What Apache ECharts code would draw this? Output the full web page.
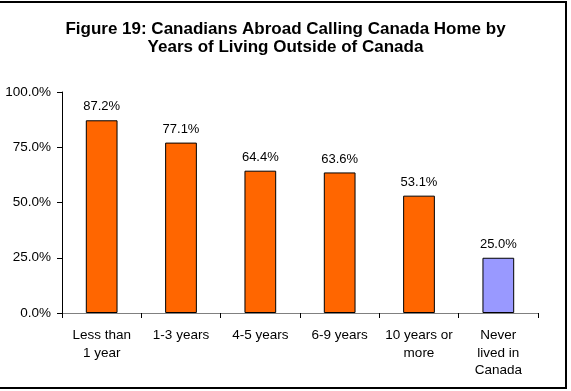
<!DOCTYPE html>
<html>
<head>
<meta charset="utf-8">
<script src="https://cdn.jsdelivr.net/npm/echarts@6/dist/echarts.min.js"></script>
<style>
  html, body { margin: 0; padding: 0; background: #fff; }
  #chart { width: 571px; height: 391px; }
</style>
</head>
<body>
<div id="chart"></div>
<script>
// Share of respondents calling Canada home, by time spent living abroad
const categories = ['Less than\n1 year', '1-3 years', '4-5 years', '6-9 years', '10 years or\nmore', 'Never\nlived in\nCanada'];
const values = [87.2, 77.1, 64.4, 63.6, 53.1, 25.0];
const barColors = ['#FF6600', '#FF6600', '#FF6600', '#FF6600', '#FF6600', '#9999FF'];
const yTicks = [0, 25, 50, 75, 100];

const FONT = 'Liberation Sans, Arial, sans-serif';
const chart = echarts.init(document.getElementById('chart'));

chart.setOption({
  animation: false,
  backgroundColor: '#ffffff',
  textStyle: { fontFamily: FONT },
  title: {
    text: 'Figure 19: Canadians Abroad Calling Canada Home by\nYears of Living Outside of Canada',
    left: 'center',
    top: 15,
    textStyle: {
      fontFamily: FONT,
      fontSize: 17,
      fontWeight: 'bold',
      color: '#000',
      lineHeight: 18.5
    }
  },
  graphic: [{
    type: 'rect',
    shape: { x: -10, y: 2, width: 576, height: 386 },
    style: { fill: 'none', stroke: '#000', lineWidth: 2 },
    silent: true,
    z: 100
  }],
  grid: { left: 62, right: 33, top: 92, bottom: 78 },
  xAxis: {
    type: 'category',
    data: categories,
    boundaryGap: true,
    axisLine: { lineStyle: { color: '#808080', width: 1 } },
    axisTick: { show: true, length: 5, inside: false, lineStyle: { color: '#000' } },
    axisLabel: {
      interval: 0,
      margin: 14,
      fontSize: 13.5,
      lineHeight: 17.5,
      color: '#000',
      fontFamily: FONT
    }
  },
  yAxis: {
    type: 'value',
    min: yTicks[0],
    max: yTicks[yTicks.length - 1],
    interval: 25,
    axisLine: { show: true, lineStyle: { color: '#000', width: 1 } },
    axisTick: { show: true, length: 5, lineStyle: { color: '#000' } },
    splitLine: { show: false },
    axisLabel: {
      margin: 11,
      fontSize: 13.5,
      color: '#000',
      fontFamily: FONT,
      formatter: v => v.toFixed(1) + '%'
    }
  },
  series: [{
    type: 'bar',
    barWidth: '40%',
    data: values.map((v, i) => ({
      value: v,
      itemStyle: { color: barColors[i], borderColor: '#000', borderWidth: 1 }
    })),
    label: {
      show: true,
      position: 'top',
      distance: 7,
      fontSize: 13,
      color: '#000',
      fontFamily: FONT,
      formatter: p => p.value.toFixed(1) + '%'
    }
  }]
});
</script>
</body>
</html>
